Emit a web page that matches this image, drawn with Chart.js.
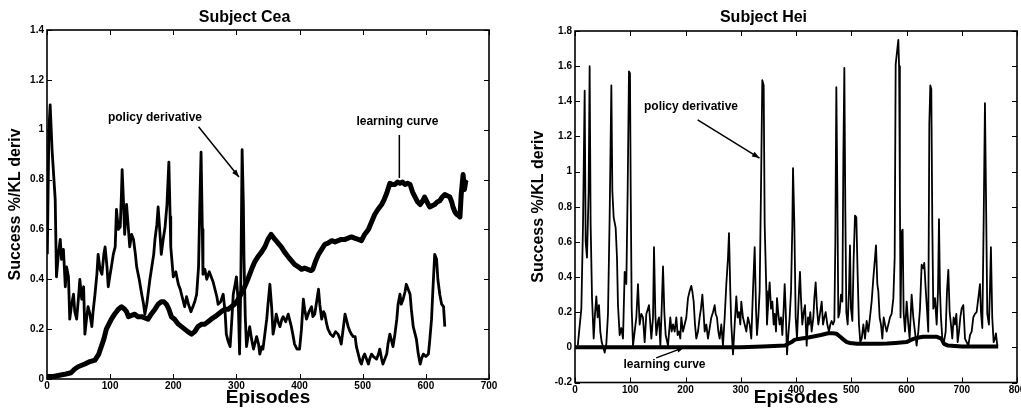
<!DOCTYPE html>
<html>
<head>
<meta charset="utf-8">
<script src="https://cdn.jsdelivr.net/npm/chart.js@4/dist/chart.umd.min.js"></script>
<style>
  body { margin: 0; background: #fff; }
  #wrap { position: relative; width: 1021px; height: 415px; }
  #cea { position: absolute; left: 0; top: 0; }
  #hei { position: absolute; left: 510px; top: 0; }
</style>
</head>
<body>
<div id="wrap">
  <canvas id="cea" width="505" height="415"></canvas>
  <canvas id="hei" width="511" height="415"></canvas>
</div>
<script>
// [episode, value] pairs
const ceaPolicy = [
  [0.5,0.50],[3,1.00],[5,1.10],[8,0.92],[11,0.80],[13,0.72],[15,0.41],[18,0.50],[21,0.56],[23,0.48],[26,0.52],
  [29,0.37],[31,0.45],[34,0.41],[36,0.24],[39,0.30],[42,0.34],[44,0.27],[47,0.24],[50,0.33],[52,0.40],[55,0.32],
  [58,0.37],[60,0.18],[63,0.25],[65,0.29],[68,0.26],[71,0.21],[73,0.27],[76,0.34],[79,0.42],[81,0.50],[84,0.44],
  [87,0.42],[90,0.50],[92,0.53],[95,0.45],[97,0.37],[100,0.42],[102,0.45],[105,0.50],[108,0.53],[110,0.68],
  [113,0.60],[116,0.61],[118,0.75],[119,0.84],[121,0.72],[123,0.58],[126,0.70],[129,0.60],[131,0.53],[134,0.58],
  [137,0.56],[140,0.50],[142,0.45],[146,0.40],[150,0.34],[153,0.30],[155,0.26],[158,0.30],[160,0.34],[163,0.40],
  [166,0.45],[169,0.50],[171,0.56],[174,0.62],[176,0.69],[179,0.58],[181,0.50],[184,0.56],[187,0.61],[190,0.70],
  [193,0.87],[195,0.65],[196,0.53],[200,0.41],[204,0.43],[208,0.38],[211,0.36],[213,0.34],[216,0.31],[218,0.29],
  [221,0.33],[224,0.30],[228,0.27],[231,0.29],[234,0.31],[237,0.34],[240,0.45],[242,0.70],[244,0.91],[246,0.60],
  [247,0.42],[250,0.44],[253,0.40],[257,0.43],[260,0.41],[263,0.39],[266,0.36],[269,0.33],[271,0.30],[275,0.31],
  [279,0.34],[282,0.27],[284,0.18],[287,0.15],[290,0.13],[293,0.25],[295,0.34],[298,0.38],[300,0.41],[303,0.30],
  [305,0.10],[307,0.40],[309,0.92],[311,0.70],[312,0.48],[314,0.25],[316,0.13],[319,0.18],[321,0.21],[324,0.16],
  [327,0.12],[330,0.15],[332,0.17],[335,0.14],[337,0.10],[340,0.13],[342,0.12],[345,0.18],[348,0.24],[350,0.30],
  [353,0.38],[356,0.28],[358,0.18],[361,0.22],[363,0.26],[366,0.23],[369,0.21],[372,0.24],[374,0.25],[378,0.23],
  [382,0.26],[385,0.23],[387,0.21],[390,0.17],[392,0.14],[396,0.12],[400,0.12],[403,0.20],[406,0.32],[408,0.28],
  [411,0.24],[415,0.27],[419,0.29],[421,0.25],[424,0.26],[427,0.31],[430,0.36],[432,0.30],[435,0.24],[438,0.27],
  [440,0.26],[443,0.22],[445,0.20],[449,0.18],[453,0.17],[457,0.19],[461,0.18],[464,0.16],[466,0.14],[469,0.20],
  [472,0.26],[475,0.23],[477,0.21],[480,0.19],[482,0.18],[485,0.17],[488,0.17],[490,0.13],[493,0.10],[496,0.07],
  [498,0.06],[501,0.09],[503,0.10],[506,0.08],[509,0.06],[511,0.08],[514,0.10],[517,0.09],[522,0.08],[525,0.10],
  [527,0.12],[530,0.08],[532,0.06],[535,0.08],[538,0.10],[540,0.14],[543,0.18],[546,0.15],[548,0.13],[551,0.18],
  [554,0.24],[556,0.30],[559,0.34],[561,0.30],[564,0.32],[567,0.35],[569,0.38],[572,0.36],[575,0.34],[577,0.28],
  [580,0.21],[583,0.18],[585,0.16],[588,0.10],[591,0.06],[593,0.08],[596,0.10],[600,0.09],[604,0.10],[606,0.15],
  [609,0.24],[611,0.35],[614,0.50],[617,0.48],[619,0.40],[622,0.34],[625,0.30],[628,0.29],[630,0.21]
];
const ceaLearning = [
  [0,0.01],[10,0.01],[20,0.015],[30,0.02],[38,0.025],[44,0.04],[50,0.05],[55,0.055],[60,0.06],[68,0.07],[76,0.076],
  [82,0.10],[86,0.13],[90,0.16],[94,0.20],[98,0.22],[102,0.24],[107,0.26],[113,0.28],[118,0.29],[123,0.28],
  [126,0.27],[129,0.25],[134,0.255],[139,0.26],[144,0.25],[150,0.25],[155,0.245],[160,0.24],[165,0.26],[171,0.28],
  [176,0.30],[181,0.31],[185,0.31],[189,0.30],[193,0.28],[197,0.25],[202,0.24],[208,0.22],[213,0.21],[218,0.20],
  [223,0.19],[229,0.18],[234,0.19],[239,0.21],[245,0.22],[250,0.22],[255,0.23],[260,0.24],[266,0.25],[271,0.26],
  [276,0.27],[282,0.28],[287,0.28],[292,0.29],[297,0.30],[303,0.32],[308,0.345],[313,0.37],[318,0.40],[324,0.44],
  [329,0.47],[334,0.49],[340,0.51],[345,0.53],[350,0.56],[355,0.58],[361,0.56],[366,0.545],[371,0.53],[376,0.51],
  [382,0.49],[387,0.475],[392,0.46],[398,0.45],[403,0.44],[408,0.445],[413,0.44],[418,0.435],[421,0.44],[425,0.47],
  [430,0.50],[435,0.52],[440,0.54],[445,0.545],[451,0.555],[456,0.55],[461,0.555],[466,0.56],[472,0.56],[477,0.565],
  [482,0.57],[487,0.565],[493,0.56],[498,0.555],[503,0.58],[509,0.60],[514,0.63],[519,0.66],[524,0.68],[530,0.70],
  [534,0.72],[538,0.745],[543,0.785],[547,0.78],[551,0.78],[555,0.79],[559,0.785],[563,0.79],[567,0.78],[571,0.785],
  [575,0.78],[579,0.75],[583,0.73],[587,0.71],[591,0.70],[595,0.715],[598,0.73],[602,0.71],[606,0.69],[610,0.695],
  [614,0.70],[618,0.71],[622,0.715],[626,0.73],[630,0.74],[634,0.735],[638,0.73],[641,0.71],[643,0.69],[646,0.67],
  [649,0.66],[652,0.655],[654,0.65],[656,0.74],[659,0.82],[661,0.76],[663,0.79],[665,0.785]
];
const heiPolicy = [
  [5,0.01],[11.5,0.22],[14.5,0.70],[17.5,1.46],[19.3,0.60],[21.7,0.51],[24.7,0.89],[26.5,1.60],[28.3,0.70],[30.8,0.28],
  [33.8,0.05],[36.2,0.19],[38.6,0.29],[41,0.17],[43.4,0.24],[45.8,0.09],[48.3,0.03],[53.7,-0.03],[56.7,0.02],[59.7,0.19],
  [62.7,0.74],[65.8,1.49],[67.6,0.89],[70,0.74],[73.6,0.68],[76,0.51],[77.8,0.24],[80.8,0.07],[83.8,0.11],[86.9,0.05],
  [89.9,0.43],[92.9,0.36],[95.3,0.89],[97.7,1.57],[99.5,1.56],[100.8,0.9],[102.6,0.22],[105,0.01],[108,0.09],[111,0.17],
  [114,0.36],[117,0.13],[120,0.19],[123,0.17],[126.1,0.03],[129.1,0.19],[133.9,0.24],[138.2,0.05],[141.2,0.17],[143,0.57],
  [145.4,0.19],[147.2,0.07],[150.2,0.15],[152,0.17],[154.5,0.01],[156.9,0.22],[159.3,0.46],[161.7,0.20],[164.1,0.07],
  [168.3,0.01],[172.5,0.17],[174.9,0.09],[177.4,0.13],[180.4,0.09],[183.4,0.17],[185.8,0.07],[188.2,0.09],[190.6,0.05],
  [192.4,0.17],[195.5,0.09],[198.5,0.13],[201.5,0.17],[204.5,0.28],[207.5,0.32],[210.5,0.35],[212.3,0.32],[214.8,0.26],
  [217.2,0.13],[219.6,0.05],[222.6,0.09],[225.6,0.17],[228,0.22],[230.5,0.30],[232.9,0.19],[234.7,0.09],[237.7,0.13],
  [240.7,0.05],[243.7,0.11],[246.7,0.17],[249.8,0.20],[252.8,0.24],[254.6,0.19],[257,0.17],[259.4,0.09],[261.8,0.05],
  [264.8,0.13],[267.8,0.01],[270.9,0.17],[273.9,0.36],[276.9,0.51],[278.7,0.65],[281.1,0.32],[282.9,0.13],[286,-0.04],
  [289,0.13],[292,0.29],[294.4,0.17],[296.8,0.20],[299.2,0.13],[301,0.26],[304,0.17],[307.1,0.13],[310.1,0.09],[313.1,0.17],
  [316.1,0.13],[319.1,0.05],[322.1,0.32],[325.2,0.57],[327.6,0.22],[329.4,0.07],[331.8,0.17],[334.2,0.32],[336.6,0.89],
  [339,1.52],[341.5,1.49],[343.3,0.70],[346.3,0.32],[347.5,0.13],[349.9,0.26],[352.3,0.37],[354.8,0.22],[357.2,0.26],
  [359.6,0.13],[361.4,0.19],[363.8,0.09],[365.6,0.28],[368,0.19],[370.4,0.13],[372.9,0.17],[375.3,0.07],[377.7,0.22],
  [379.5,0.36],[381.3,0.22],[383.7,-0.04],[386.1,0.07],[388.5,0.17],[391,0.32],[393.4,0.70],[394.6,1.02],[397,0.70],
  [399.4,0.17],[401.8,0.05],[405.4,0.32],[407.2,0.43],[409,0.28],[411.4,0.13],[413.9,0.20],[416.3,0.24],[419.3,0.01],
  [421.7,0.17],[423.5,0.13],[425.9,0.20],[428.3,0.09],[431.4,0.17],[433.2,0.28],[435.6,0.37],[438,0.22],[440.4,0.13],
  [443.4,0.19],[446.5,0.26],[448.9,0.13],[451.3,0.17],[453.7,0.20],[456.7,0.13],[459.7,0.09],[462.1,0.13],[464.5,0.15],
  [467,0.13],[469.4,0.15],[471.2,0.60],[473,1.48],[474.8,0.89],[476.6,0.17],[479,0.20],[481.4,0.30],[483.9,0.26],
  [485.7,1.08],[487.5,1.59],[489.3,0.77],[491.1,0.20],[493.5,0.13],[495.9,0.32],[497.7,0.58],[499.5,0.22],[502,0.15],
  [504.4,0.51],[506.8,0.75],[509.2,0.74],[511.6,0.41],[514,0.13],[516.4,0.03],[518.9,0.05],[521.9,0.13],[524.9,0.05],
  [527.9,0.15],[530.9,0.09],[533.9,0.17],[536.9,0.26],[539.9,0.39],[543,0.51],[544.8,0.58],[547.2,0.36],[549,0.32],
  [551.4,0.17],[553.8,0.13],[556.3,0.05],[558.7,0.17],[561.1,0.13],[564.1,0.09],[567.1,0.13],[570.1,0.17],[573.1,0.19],
  [576.2,0.28],[578.6,0.51],[580.4,1.61],[582.8,1.68],[585.2,1.75],[586.6,1.60],[588,0.90],[589.2,0.17],[591.2,0.66],
  [593,0.67],[594.8,0.20],[597.3,0.09],[600.3,0.26],[603.3,0.13],[605.7,0.05],[609.3,0.30],[612.3,0.17],[615.3,0.09],
  [618.3,0.01],[621.4,0.09],[624.4,0.22],[627.4,0.47],[630.4,0.45],[632.2,0.48],[634.6,0.34],[637,0.22],[639.4,0.09],
  [641.3,1.27],[643.1,1.49],[644.9,1.47],[646.7,0.70],[648.5,0.22],[651.5,0.28],[654.6,0.13],[657,0.32],[658.8,0.73],
  [660.6,0.32],[662.4,0.17],[664.8,0.05],[667.8,0.03],[670.9,0.09],[673.3,0.32],[675.7,0.44],[678.1,0.20],[680.5,0.13],
  [682.9,0.05],[685.3,0.17],[687.8,0.13],[690.2,0.19],[692.6,0.03],[695,0.09],[697.4,0.17],[699.8,0.22],[702.8,0.24],
  [705.9,0.05],[708.9,0.03],[711.9,0.01],[714.9,0.07],[717.9,0.09],[720.9,0.17],[723.9,0.19],[726.9,0.20],[730,0.28],
  [733,0.36],[734.8,0.20],[737.2,0.11],[739.6,0.70],[742,1.39],[743.8,0.89],[746.2,0.19],[749.2,0.13],[751,0.32],
  [752.8,0.57],[755.2,0.17],[757.7,0.03],[760.1,0.05],[761.9,0.08],[764.3,0.01]
];
const heiLearning = [
  [0,0],[100,0],[200,0],[300,0],[340,0.005],[380,0.01],[392,0.03],[398,0.044],[410,0.05],[420,0.055],[434,0.063],
  [445,0.07],[458,0.08],[467,0.08],[473,0.078],[480,0.06],[486,0.044],[492,0.03],[498,0.025],[510,0.02],[520,0.02],
  [535,0.02],[549,0.02],[565,0.022],[580,0.025],[600,0.03],[610,0.045],[620,0.055],[630,0.06],[645,0.06],[655,0.06],
  [663,0.05],[668,0.02],[675,0.01],[700,0.005],[730,0.005],[766,0.005]
];

const ceaXTicks = [0, 100, 200, 300, 400, 500, 600, 700];
const ceaYTicks = [0, 0.2, 0.4, 0.6, 0.8, 1, 1.2, 1.4];
const heiXTicks = [0, 100, 200, 300, 400, 500, 600, 700, 800];
const heiYTicks = [-0.2, 0, 0.2, 0.4, 0.6, 0.8, 1, 1.2, 1.4, 1.6, 1.8];
const ceaYLabels = ['0', '0.2', '0.4', '0.6', '0.8', '1', '1.2', '1.4'];
const heiYLabels = ['-0.2', '0', '0.2', '0.4', '0.6', '0.8', '1', '1.2', '1.4', '1.6', '1.8'];

const FONT = '"Liberation Sans", Arial, Helvetica, sans-serif';
const toXY = arr => arr.map(p => ({ x: p[0], y: p[1] }));

// matlab style box with inward ticks on all four sides
const boxTicks = {
  id: 'boxTicks',
  afterDraw(chart) {
    const { ctx, chartArea: a, scales: { x, y } } = chart;
    ctx.save();
    ctx.strokeStyle = '#000';
    ctx.lineWidth = 1;
    ctx.beginPath();
    x.ticks.forEach(t => {
      const px = Math.round(x.getPixelForValue(t.value)) + 0.5;
      ctx.moveTo(px, a.bottom); ctx.lineTo(px, a.bottom - 5);
      ctx.moveTo(px, a.top); ctx.lineTo(px, a.top + 5);
    });
    y.ticks.forEach(t => {
      const py = Math.round(y.getPixelForValue(t.value)) + 0.5;
      ctx.moveTo(a.left, py); ctx.lineTo(a.left + 5, py);
      ctx.moveTo(a.right, py); ctx.lineTo(a.right - 5, py);
    });
    ctx.stroke();
    ctx.lineWidth = 1.6;
    ctx.strokeRect(a.left, a.top, a.right - a.left, a.bottom - a.top);
    ctx.restore();
  }
};

// text labels and pointer lines, placed in data units
const notes = {
  id: 'notes',
  afterDatasetsDraw(chart, args, opts) {
    const { ctx, scales: { x, y } } = chart;
    ctx.save();
    ctx.fillStyle = '#000';
    ctx.strokeStyle = '#000';
    ctx.font = 'bold 12px ' + FONT;
    ctx.textAlign = 'center';
    ctx.textBaseline = 'middle';
    (opts.labels || []).forEach(l => {
      ctx.fillText(l.text, x.getPixelForValue(l.x), y.getPixelForValue(l.y));
    });
    ctx.lineWidth = 1.5;
    (opts.arrows || []).forEach(r => {
      const x1 = x.getPixelForValue(r.x1), y1 = y.getPixelForValue(r.y1);
      const x2 = x.getPixelForValue(r.x2), y2 = y.getPixelForValue(r.y2);
      ctx.beginPath();
      ctx.moveTo(x1, y1); ctx.lineTo(x2, y2);
      ctx.stroke();
      if (r.head) {
        const ang = Math.atan2(y2 - y1, x2 - x1);
        ctx.beginPath();
        ctx.moveTo(x2, y2);
        ctx.lineTo(x2 - 8 * Math.cos(ang - 0.35), y2 - 8 * Math.sin(ang - 0.35));
        ctx.lineTo(x2 - 8 * Math.cos(ang + 0.35), y2 - 8 * Math.sin(ang + 0.35));
        ctx.closePath();
        ctx.fill();
      }
    });
    ctx.restore();
  }
};

function makeChart(id, cfg) {
  const tickFont = { family: FONT, size: 10, weight: 'bold' };
  return new Chart(document.getElementById(id), {
    type: 'line',
    data: {
      datasets: [
        { label: 'policy derivative', data: toXY(cfg.policy), borderColor: '#000', borderWidth: cfg.policyWidth,
          pointRadius: 0, tension: 0, borderJoinStyle: 'round' },
        { label: 'learning curve', data: toXY(cfg.learning), borderColor: '#000', borderWidth: cfg.learnWidth,
          pointRadius: 0, tension: 0, borderJoinStyle: 'round' }
      ]
    },
    options: {
      responsive: false,
      animation: false,
      devicePixelRatio: 1,
      layout: { padding: { left: 0, top: 0, right: cfg.padRight, bottom: 0 } },
      plugins: {
        legend: { display: false },
        tooltip: { enabled: false },
        title: {
          display: true, text: cfg.title, color: '#000',
          font: { family: FONT, size: 16, weight: 'bold', lineHeight: 1.2 },
          padding: { top: 8, bottom: cfg.titleGap }
        },
        notes: { labels: cfg.labels, arrows: cfg.arrows }
      },
      scales: {
        x: {
          type: 'linear', min: cfg.xTicks[0], max: cfg.xTicks[cfg.xTicks.length - 1],
          afterBuildTicks: s => { s.ticks = cfg.xTicks.map(v => ({ value: v })); },
          afterFit: s => { s.height = cfg.xHeight; s.paddingLeft = 0; s.paddingRight = 0; },
          grid: { display: false, drawTicks: false },
          border: { display: false },
          ticks: { autoSkip: false, maxRotation: 0, padding: cfg.xTickPad, color: '#000', font: tickFont,
            callback: (v, i) => String(cfg.xTicks[i]) },
          title: { display: true, text: 'Episodes', color: '#000',
            font: { family: FONT, size: 19, weight: 'bold', lineHeight: 1.2 }, padding: { top: 0, bottom: 6 } }
        },
        y: {
          type: 'linear', min: cfg.yTicks[0], max: cfg.yTicks[cfg.yTicks.length - 1],
          afterBuildTicks: s => { s.ticks = cfg.yTicks.map(v => ({ value: v })); },
          afterFit: s => { s.width = cfg.yWidth; s.paddingTop = 0; s.paddingBottom = 0; },
          grid: { display: false, drawTicks: false },
          border: { display: false },
          ticks: { autoSkip: false, padding: 3, color: '#000', font: tickFont,
            callback: (v, i) => cfg.yLabels[i] },
          title: { display: true, text: 'Success %/KL deriv', color: '#000',
            font: { family: FONT, size: 16, weight: 'bold', lineHeight: 1.2 }, padding: { top: cfg.yTitlePad, bottom: 0 } }
        }
      }
    },
    plugins: [boxTicks, notes]
  });
}

makeChart('cea', {
  title: 'Subject Cea', policy: ceaPolicy, learning: ceaLearning, policyWidth: 2.8, learnWidth: 5,
  xTicks: ceaXTicks, yTicks: ceaYTicks, yLabels: ceaYLabels,
  padRight: 16, titleGap: 2.8, xHeight: 36, yWidth: 47, xTickPad: 1, yTitlePad: 6,
  labels: [
    { text: 'policy derivative', x: 171, y: 1.047 },
    { text: 'learning curve', x: 555, y: 1.032 }
  ],
  arrows: [
    { x1: 240, y1: 1.012, x2: 304, y2: 0.81, head: true },
    { x1: 558, y1: 0.979, x2: 558, y2: 0.806, head: false }
  ]
});

makeChart('hei', {
  title: 'Subject Hei', policy: heiPolicy, learning: heiLearning, policyWidth: 1.8, learnWidth: 4,
  xTicks: heiXTicks, yTicks: heiYTicks, yLabels: heiYLabels,
  padRight: 4, titleGap: 3.8, xHeight: 32.5, yWidth: 65, xTickPad: 2, yTitlePad: 19,
  labels: [
    { text: 'policy derivative', x: 210, y: 1.368 },
    { text: 'learning curve', x: 162, y: -0.098 }
  ],
  arrows: [
    { x1: 222, y1: 1.294, x2: 334, y2: 1.077, head: true },
    { x1: 147, y1: -0.06, x2: 198, y2: 0.0, head: true }
  ]
});
</script>
</body>
</html>
